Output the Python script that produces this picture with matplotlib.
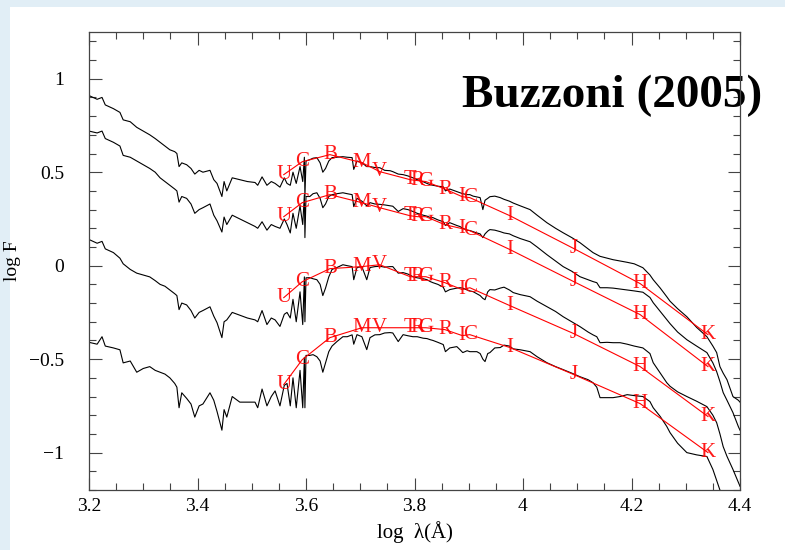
import numpy as np
import matplotlib.pyplot as plt
from matplotlib.patches import Rectangle
from matplotlib.ticker import MultipleLocator

# log lambda grid shared by the four spectra
logw = [3.200, 3.215, 3.224, 3.230, 3.245, 3.257, 3.263, 3.276, 3.288, 3.300,
        3.312, 3.322, 3.331, 3.340, 3.349, 3.358, 3.362, 3.366, 3.371, 3.380,
        3.388, 3.395, 3.403, 3.410, 3.423, 3.430, 3.436, 3.445, 3.449, 3.454,
        3.464, 3.478, 3.492, 3.506, 3.511, 3.519, 3.528, 3.536, 3.543, 3.552,
        3.560, 3.565, 3.571, 3.576, 3.582, 3.589, 3.594, 3.597, 3.598, 3.600,
        3.607, 3.613, 3.620, 3.626, 3.631, 3.636, 3.642, 3.648, 3.657, 3.668,
        3.676, 3.685, 3.688, 3.694, 3.703, 3.712, 3.718, 3.727, 3.736, 3.745,
        3.755, 3.760, 3.770, 3.779, 3.788, 3.797, 3.805, 3.816, 3.823, 3.829,
        3.834, 3.843, 3.853, 3.857, 3.865, 3.878, 3.884, 3.889, 3.897, 3.902,
        3.908, 3.915, 3.921, 3.926, 3.930, 3.935, 3.939, 3.948, 3.958, 3.965,
        3.975, 3.982, 3.995, 4.013, 4.026, 4.044, 4.060, 4.074, 4.090, 4.105,
        4.120, 4.129, 4.136, 4.142, 4.155, 4.166, 4.179, 4.192, 4.205, 4.221,
        4.234, 4.240, 4.253, 4.265, 4.271, 4.285, 4.302, 4.320, 4.339, 4.350,
        4.357, 4.363, 4.369, 4.376, 4.387, 4.397, 4.400]

flux1 = [0.91, 0.89, 0.90, 0.86, 0.84, 0.82, 0.78, 0.77, 0.74, 0.72,
         0.70, 0.68, 0.66, 0.64, 0.62, 0.61, 0.60, 0.53, 0.55, 0.54,
         0.52, 0.49, 0.51, 0.50, 0.51, 0.46, 0.44, 0.37, 0.45, 0.40,
         0.47, 0.46, 0.45, 0.445, 0.43, 0.475, 0.43, 0.45, 0.44, 0.42,
         0.47, 0.44, 0.43, 0.50, 0.44, 0.53, 0.45, 0.58, 0.37, 0.56,
         0.567, 0.575, 0.578, 0.55, 0.50, 0.52, 0.56, 0.578, 0.58, 0.583,
         0.58, 0.578, 0.515, 0.56, 0.551, 0.53, 0.53, 0.525, 0.524, 0.51,
         0.508, 0.503, 0.49, 0.487, 0.48, 0.47, 0.46, 0.449, 0.44, 0.433,
         0.43, 0.425, 0.422, 0.40, 0.41, 0.396, 0.39, 0.385, 0.38, 0.38,
         0.372, 0.368, 0.364, 0.30, 0.35, 0.36, 0.369, 0.372, 0.364, 0.355,
         0.345, 0.335, 0.32, 0.30, 0.27, 0.23, 0.20, 0.176, 0.15, 0.123,
         0.09, 0.07, 0.059, 0.05, 0.04, 0.032, 0.025, 0.018, 0.01, -0.011,
         -0.05, -0.075, -0.12, -0.166, -0.19, -0.23, -0.273, -0.33, -0.38, -0.43,
         -0.465, -0.54, -0.575, -0.61, -0.70, -0.72, -0.73]

flux2 = [0.72, 0.71, 0.72, 0.68, 0.66, 0.64, 0.59, 0.58, 0.56, 0.54,
         0.52, 0.50, 0.47, 0.45, 0.43, 0.41, 0.40, 0.34, 0.37, 0.36,
         0.33, 0.28, 0.30, 0.31, 0.33, 0.27, 0.24, 0.18, 0.26, 0.22,
         0.27, 0.25, 0.23, 0.21, 0.20, 0.235, 0.19, 0.22, 0.21, 0.20,
         0.25, 0.22, 0.175, 0.28, 0.20, 0.32, 0.22, 0.38, 0.15, 0.37,
         0.37, 0.385, 0.39, 0.36, 0.31, 0.33, 0.37, 0.38, 0.385, 0.39,
         0.385, 0.38, 0.316, 0.36, 0.345, 0.32, 0.337, 0.33, 0.328, 0.325,
         0.32, 0.318, 0.29, 0.305, 0.30, 0.29, 0.28, 0.27, 0.265, 0.258,
         0.257, 0.245, 0.235, 0.215, 0.23, 0.215, 0.209, 0.20, 0.19, 0.188,
         0.182, 0.175, 0.17, 0.15, 0.17, 0.185, 0.193, 0.19, 0.182, 0.175,
         0.17, 0.16, 0.145, 0.128, 0.10, 0.059, 0.025, -0.005, -0.03, -0.059,
         -0.075, -0.085, -0.091, -0.118, -0.118, -0.12, -0.125, -0.13, -0.135, -0.142,
         -0.17, -0.198, -0.245, -0.289, -0.31, -0.355, -0.396, -0.43, -0.465, -0.52,
         -0.567, -0.62, -0.679, -0.72, -0.786, -0.861, -0.88]

flux3 = [0.14, 0.12, 0.13, 0.09, 0.07, 0.04, 0.01, -0.02, -0.04, -0.05,
         -0.06, -0.08, -0.10, -0.11, -0.13, -0.15, -0.16, -0.235, -0.20, -0.21,
         -0.24, -0.28, -0.25, -0.24, -0.22, -0.27, -0.305, -0.385, -0.30, -0.29,
         -0.25, -0.265, -0.28, -0.29, -0.30, -0.24, -0.315, -0.28, -0.29, -0.325,
         -0.26, -0.25, -0.28, -0.18, -0.30, -0.14, -0.315, -0.06, -0.30, -0.065,
         -0.064, -0.07, -0.075, -0.10, -0.16, -0.12, -0.06, -0.02, -0.01, 0.005,
         0.0, -0.005, -0.075, -0.01, -0.005, -0.075, -0.01, -0.005, -0.003, -0.008,
         -0.005, -0.005, -0.04, -0.037, -0.045, -0.059, -0.065, -0.07, -0.075, -0.085,
         -0.091, -0.10, -0.115, -0.14, -0.128, -0.12, -0.118, -0.12, -0.13, -0.135,
         -0.139, -0.15, -0.16, -0.175, -0.182, -0.14, -0.128, -0.13, -0.12, -0.115,
         -0.13, -0.144, -0.155, -0.166, -0.19, -0.219, -0.245, -0.273, -0.30, -0.326,
         -0.355, -0.37, -0.38, -0.412, -0.41, -0.412, -0.412, -0.42, -0.43, -0.44,
         -0.47, -0.519, -0.575, -0.626, -0.645, -0.675, -0.70, -0.725, -0.754, -0.80,
         -0.84, -0.90, -0.968, -1.02, -1.09, -1.16, -1.18]

flux4 = [-0.41, -0.42, -0.38, -0.43, -0.44, -0.45, -0.52, -0.51, -0.57, -0.55,
         -0.54, -0.56, -0.57, -0.58, -0.60, -0.63, -0.65, -0.76, -0.68, -0.71,
         -0.74, -0.81, -0.75, -0.74, -0.68, -0.72, -0.78, -0.88, -0.77, -0.81,
         -0.70, -0.73, -0.73, -0.73, -0.76, -0.66, -0.75, -0.70, -0.67, -0.75,
         -0.64, -0.63, -0.75, -0.60, -0.76, -0.56, -0.76, -0.49, -0.76, -0.48,
         -0.48, -0.476, -0.487, -0.51, -0.57, -0.52, -0.46, -0.43, -0.406, -0.38,
         -0.38, -0.37, -0.42, -0.369, -0.38, -0.449, -0.385, -0.37, -0.369, -0.36,
         -0.358, -0.36, -0.406, -0.369, -0.375, -0.38, -0.38, -0.388, -0.39, -0.396,
         -0.40, -0.41, -0.422, -0.46, -0.44, -0.433, -0.45, -0.465, -0.455, -0.46,
         -0.46, -0.46, -0.47, -0.50, -0.513, -0.47, -0.465, -0.44, -0.438, -0.425,
         -0.43, -0.445, -0.45, -0.46, -0.487, -0.519, -0.54, -0.556, -0.575, -0.594,
         -0.61, -0.626, -0.65, -0.706, -0.706, -0.706, -0.70, -0.69, -0.695, -0.70,
         -0.727, -0.76, -0.807, -0.86, -0.893, -0.95, -1.0, -1.012, -1.021, -1.09,
         -1.15, -1.20, -1.26, -1.30, -1.35, -1.40, -1.42]

# broad-band filters (red labels)
band_names = ['U', 'C', 'B', 'M', 'V', 'T', 'R', 'G', 'R', 'I', 'C', 'I', 'J', 'H', 'K']
band_logw = [3.559, 3.593, 3.644, 3.703, 3.736, 3.792, 3.806, 3.821, 3.856,
             3.888, 3.902, 3.976, 4.094, 4.216, 4.341]
band1 = [0.487, 0.556, 0.594, 0.551, 0.503, 0.46, 0.455, 0.45, 0.41, 0.369, 0.364,
         0.267, 0.091, -0.096, -0.369]
band2 = [0.262, 0.337, 0.38, 0.337, 0.31, 0.267, 0.262, 0.262, 0.219, 0.198, 0.187,
         0.086, -0.086, -0.262, -0.540]
band3 = [-0.171, -0.086, -0.016, -0.005, 0.005, -0.059, -0.059, -0.059, -0.091, -0.128,
         -0.118, -0.214, -0.364, -0.540, -0.807]
band4 = [-0.636, -0.503, -0.385, -0.332, -0.332, -0.332, -0.332, -0.332, -0.342, -0.374,
         -0.369, -0.438, -0.583, -0.738, -1.0]

plt.rcParams['font.family'] = ['Liberation Serif', 'DejaVu Serif']

fig = plt.figure(figsize=(7.85, 5.5), dpi=100, facecolor='#e1eef6')
fig.patches.append(Rectangle((10/785, 0), 1, 1 - 7/550, transform=fig.transFigure,
                             facecolor='white', edgecolor='none', zorder=-10))
ax = fig.add_axes([89/785, 1 - 490/550, 651/785, 458/550])

for f in [flux1, flux2, flux3, flux4]:
    ax.plot(logw, f, color='black', lw=0.8)

for b in [band1, band2, band3, band4]:
    ax.plot(band_logw, b, color='red', lw=0.8)
    for nm, xx, yy in zip(band_names, band_logw, b):
        ax.text(xx, yy, nm, color='red', fontsize=15, ha='center', va='center', alpha=0.9)

ax.set_xlim(3.2, 4.4)
ax.set_ylim(-1.2, 1.25)
ax.xaxis.set_major_locator(MultipleLocator(0.2))
ax.xaxis.set_minor_locator(MultipleLocator(0.05))
ax.yaxis.set_major_locator(MultipleLocator(0.5))
ax.yaxis.set_minor_locator(MultipleLocator(0.1))
ax.xaxis.set_major_formatter(plt.FuncFormatter(lambda v, p: '%g' % round(v, 2)))
ax.yaxis.set_major_formatter(plt.FuncFormatter(lambda v, p: ('%g' % round(v, 2)).replace('-', '\u2212')))
ax.tick_params(which='both', direction='in', top=True, right=True, labelsize=14, color='#444444')
ax.tick_params(which='major', length=9, width=0.8)
ax.tick_params(which='minor', length=5, width=0.8)
ax.tick_params(axis='y', which='major', pad=18)
ax.tick_params(axis='x', which='major', pad=6)
for s in ax.spines.values():
    s.set_linewidth(0.9)
    s.set_color('#444444')

ax.set_xlabel('log  λ(Å)', fontsize=15, labelpad=4)
ax.set_ylabel('log F', fontsize=14, labelpad=6)

ax.text(462/785, 1 - 107/550, 'Buzzoni (2005)', transform=fig.transFigure, fontsize=34,
        fontweight='bold', ha='left', va='baseline', clip_on=False, zorder=2)

fig.savefig('out.png', dpi=100, facecolor=fig.get_facecolor())
